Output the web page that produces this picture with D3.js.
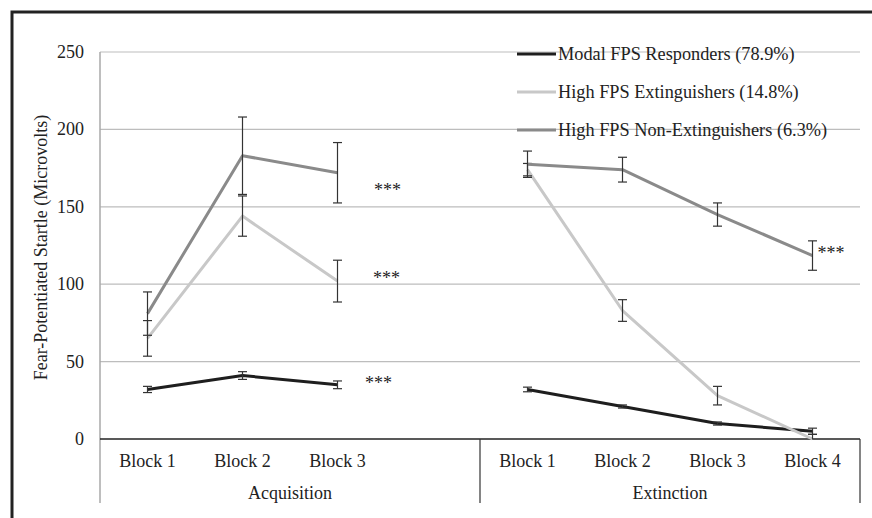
<!DOCTYPE html>
<html>
<head>
<meta charset="utf-8">
<script src="https://cdn.jsdelivr.net/npm/d3@7"></script>
<style>
  body { margin: 0; background: #fff; }
</style>
</head>
<body>
<svg id="chart" width="872" height="518"></svg>
<script>
// phases and their category slots (acquisition has an empty 4th slot)
const phases = ["Acquisition", "Extinction"];
const acqBlocks = ["Block 1", "Block 2", "Block 3", ""];
const extBlocks = ["Block 1", "Block 2", "Block 3", "Block 4"];
const yTicks = [0, 50, 100, 150, 200, 250];

const seriesNames = [
  "Modal FPS Responders (78.9%)",
  "High FPS Extinguishers (14.8%)",
  "High FPS Non-Extinguishers (6.3%)"
];
const seriesColors = ["#1e1e1e", "#c8c8c8", "#8a8a8a"];

// means and error (+/-) per phase
const modalAcq = [32, 41, 35];
const modalAcqErr = [2, 2.5, 2.5];
const modalExt = [32, 21, 10, 5];
const modalExtErr = [1.5, 1, 1, 2];

const extingAcq = [65, 144, 102];
const extingAcqErr = [11.5, 13, 13.5];
const extingExt = [174, 83, 28, 0];
const extingExtErr = [4, 7, 6, 3];

const nonExtAcq = [81, 183, 172];
const nonExtAcqErr = [14, 25, 19.5];
const nonExtExt = [177.5, 174, 145, 118.5];
const nonExtExtErr = [8.5, 8, 7.5, 9.5];

// significance marks: [phase, block index, value, dx, anchor]
const stars = [
  ["Acquisition", 2, 163, 50, "middle"],
  ["Acquisition", 2, 106, 49, "middle"],
  ["Acquisition", 2, 38, 41, "middle"],
  ["Extinction", 3, 122, 5, "start"]
];

const FONT = "'Liberation Serif', 'Times New Roman', Times, serif";

const svg = d3.select("#chart").attr("font-family", FONT);
const margin = { left: 100, right: 12, top: 52, bottom: 79 };
const W = 872, H = 518;

const slots = [];
acqBlocks.forEach((b, i) => slots.push("Acquisition-" + i));
extBlocks.forEach((b, i) => slots.push("Extinction-" + i));

const x = d3.scaleBand().domain(slots).range([margin.left, W - margin.right]);
const y = d3.scaleLinear().domain([0, 250]).range([H - margin.bottom, margin.top]);
const cx = (phase, i) => x(phase + "-" + i) + x.bandwidth() / 2;

const addText = sel => sel
  .attr("font-family", FONT)
  .attr("font-size", 18)
  .attr("fill", "#222");

// outer frame (left and top only)
svg.append("path")
  .attr("d", `M12,${H} L12,12 L${W},12`)
  .attr("fill", "none")
  .attr("stroke", "#222")
  .attr("stroke-width", 3);

// gridlines
svg.append("g")
  .selectAll("line")
  .data(yTicks.filter(d => d > 0))
  .join("line")
  .attr("x1", margin.left).attr("x2", W - margin.right)
  .attr("y1", d => y(d)).attr("y2", d => y(d))
  .attr("stroke", "#bdbdbd").attr("stroke-width", 1.2);

// y axis line
const yBottomExtent = 503;
svg.append("line")
  .attr("x1", margin.left).attr("x2", margin.left)
  .attr("y1", y(250)).attr("y2", yBottomExtent)
  .attr("stroke", "#a8a8a8").attr("stroke-width", 1.5);

// y tick labels
svg.append("g")
  .selectAll("text")
  .data(yTicks)
  .join("text")
  .call(addText)
  .attr("x", margin.left - 16)
  .attr("y", d => y(d) + 6)
  .attr("text-anchor", "end")
  .text(d => d);

// y title
svg.append("text")
  .call(addText)
  .attr("transform", `translate(47,${(y(0) + y(250)) / 2 + 2}) rotate(-90)`)
  .attr("text-anchor", "middle")
  .text("Fear-Potentiated Startle (Microvolts)");

// category axis line and phase dividers
svg.append("line")
  .attr("x1", margin.left).attr("x2", W - margin.right)
  .attr("y1", y(0)).attr("y2", y(0))
  .attr("stroke", "#222").attr("stroke-width", 1.5);

const dividerX = x("Extinction-0");
[dividerX, W - margin.right].forEach(dx => {
  svg.append("line")
    .attr("x1", dx).attr("x2", dx)
    .attr("y1", y(0)).attr("y2", yBottomExtent)
    .attr("stroke", "#333").attr("stroke-width", 1.2);
});

// block labels
const blockLabels = [];
acqBlocks.forEach((b, i) => blockLabels.push({ phase: "Acquisition", i, b }));
extBlocks.forEach((b, i) => blockLabels.push({ phase: "Extinction", i, b }));
svg.append("g")
  .selectAll("text")
  .data(blockLabels.filter(d => d.b))
  .join("text")
  .call(addText)
  .attr("x", d => cx(d.phase, d.i))
  .attr("y", 467)
  .attr("text-anchor", "middle")
  .text(d => d.b);

// phase labels
svg.append("g")
  .selectAll("text")
  .data(phases)
  .join("text")
  .call(addText)
  .attr("x", (d, k) => k === 0 ? (margin.left + dividerX) / 2 : (dividerX + W - margin.right) / 2)
  .attr("y", 499)
  .attr("text-anchor", "middle")
  .text(d => d);

// series
const series = [
  { name: seriesNames[0], color: seriesColors[0], acq: modalAcq, acqErr: modalAcqErr, ext: modalExt, extErr: modalExtErr },
  { name: seriesNames[1], color: seriesColors[1], acq: extingAcq, acqErr: extingAcqErr, ext: extingExt, extErr: extingExtErr },
  { name: seriesNames[2], color: seriesColors[2], acq: nonExtAcq, acqErr: nonExtAcqErr, ext: nonExtExt, extErr: nonExtExtErr }
];

const line = d3.line().x(d => d.x).y(d => d.y);

series.forEach(s => {
  [["Acquisition", s.acq, s.acqErr], ["Extinction", s.ext, s.extErr]].forEach(([phase, vals, errs]) => {
    const pts = vals.map((v, i) => ({ x: cx(phase, i), y: y(v), v, e: errs[i] }));
    svg.append("path")
      .datum(pts)
      .attr("d", line)
      .attr("fill", "none")
      .attr("stroke", s.color)
      .attr("stroke-width", 3)
      .attr("stroke-linejoin", "round");

    const eb = svg.append("g").attr("stroke", "#333").attr("stroke-width", 1.2);
    pts.forEach(p => {
      eb.append("line").attr("x1", p.x).attr("x2", p.x)
        .attr("y1", y(p.v + p.e)).attr("y2", y(Math.max(0, p.v - p.e)));
      [p.v + p.e, p.v - p.e].filter(v => v >= 0).forEach(v => {
        eb.append("line").attr("x1", p.x - 4.5).attr("x2", p.x + 4.5)
          .attr("y1", y(v)).attr("y2", y(v));
      });
    });
  });
});

// significance stars
svg.append("g")
  .selectAll("text")
  .data(stars)
  .join("text")
  .call(addText)
  .attr("x", d => cx(d[0], d[1]) + d[3])
  .attr("y", d => y(d[2]) + 9)
  .attr("text-anchor", d => d[4])
  .text("***");

// legend
const legend = svg.append("g");
series.forEach((s, k) => {
  const ly = 54 + k * 38;
  legend.append("line")
    .attr("x1", 517).attr("x2", 556)
    .attr("y1", ly).attr("y2", ly)
    .attr("stroke", s.color).attr("stroke-width", 3);
  legend.append("text")
    .call(addText)
    .attr("font-size", 18.3)
    .attr("x", 558).attr("y", ly + 6)
    .text(s.name);
});
</script>
</body>
</html>
